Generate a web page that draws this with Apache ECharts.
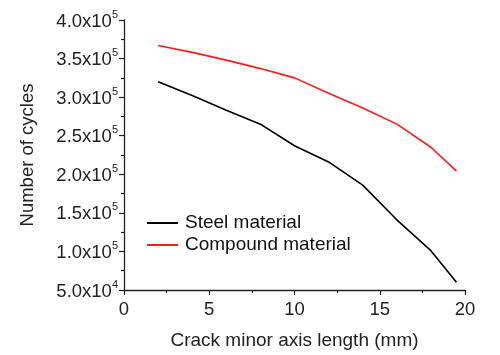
<!DOCTYPE html>
<html>
<head>
<meta charset="utf-8">
<script src="https://cdn.jsdelivr.net/npm/echarts@6/dist/echarts.min.js"></script>
<style>html,body{margin:0;padding:0;background:#fff;}#c{width:500px;height:355px;}</style>
</head>
<body>
<div id="c"></div>
<script>
var crackLength = [2, 4, 6, 8, 10, 12, 14, 16, 18, 19.5];
var steelCycles = [320000, 302000, 283000, 265000, 237000, 216000, 186000, 141000, 101000, 60000];
var compoundCycles = [367000, 358000, 348000, 337000, 325000, 305000, 286000, 265000, 235000, 204000];
var seriesNames = ['Steel material', 'Compound material'];
var xTitle = 'Crack minor axis length (mm)';
var yTitle = 'Number of cycles';

function pairs(xs, ys) { return xs.map(function (x, i) { return [x, ys[i]]; }); }
var FONT = '"Liberation Sans", Arial, sans-serif';
var chart = echarts.init(document.getElementById('c'), null, { renderer: 'canvas' });
chart.setOption({
  animation: false,
  backgroundColor: '#fff',
  grid: { left: 124, right: 35, top: 20, bottom: 62, containLabel: false },
  legend: {
    orient: 'vertical', left: 147, top: 213, padding: 0, itemGap: 2,
    itemWidth: 31, itemHeight: 2, icon: 'rect',
    textStyle: { fontFamily: FONT, fontSize: 19, color: '#111', lineHeight: 20, padding: [0, 0, 0, 2] },
    data: seriesNames
  },
  xAxis: {
    type: 'value', min: 0, max: 20, interval: 5,
    name: xTitle, nameLocation: 'middle', nameGap: 41,
    nameTextStyle: { fontFamily: FONT, fontSize: 19, color: '#222' },
    axisLine: { show: true, lineStyle: { color: '#222', width: 1.3 } },
    axisTick: { show: true, inside: false, length: 5, lineStyle: { color: '#222', width: 1.2 } },
    minorTick: { show: true, splitNumber: 2, length: 3, lineStyle: { color: '#222', width: 1.2 } },
    splitLine: { show: false },
    axisLabel: { fontFamily: FONT, fontSize: 18.5, color: '#222', margin: 10 }
  },
  yAxis: {
    type: 'value', min: 50000, max: 400000, interval: 50000,
    name: yTitle, nameLocation: 'middle', nameGap: 87, nameRotate: 90,
    nameTextStyle: { fontFamily: FONT, fontSize: 18.5, color: '#222' },
    axisLine: { show: true, lineStyle: { color: '#222', width: 1.3 } },
    axisTick: { show: true, inside: false, length: 5, lineStyle: { color: '#222', width: 1.2 } },
    minorTick: { show: true, splitNumber: 2, length: 3, lineStyle: { color: '#222', width: 1.2 } },
    splitLine: { show: false },
    axisLabel: {
      margin: 6,
      formatter: function (v) {
        var e = Math.floor(Math.log10(v) + 1e-9);
        var m = (v / Math.pow(10, e)).toFixed(1);
        return '{a|' + m + 'x10}{b|' + e + '}';
      },
      rich: {
        a: { fontFamily: FONT, fontSize: 18.5, color: '#222', lineHeight: 22, verticalAlign: 'bottom' },
        b: { fontFamily: FONT, fontSize: 11, color: '#222', lineHeight: 22, verticalAlign: 'top' }
      }
    }
  },
  series: [
    { name: seriesNames[0], type: 'line', data: pairs(crackLength, steelCycles), symbol: 'none',
      lineStyle: { color: '#000', width: 1.6 }, itemStyle: { color: '#000' } },
    { name: seriesNames[1], type: 'line', data: pairs(crackLength, compoundCycles), symbol: 'none',
      lineStyle: { color: '#ff1a1a', width: 1.6 }, itemStyle: { color: '#ff1a1a' } }
  ]
});
</script>
</body>
</html>
